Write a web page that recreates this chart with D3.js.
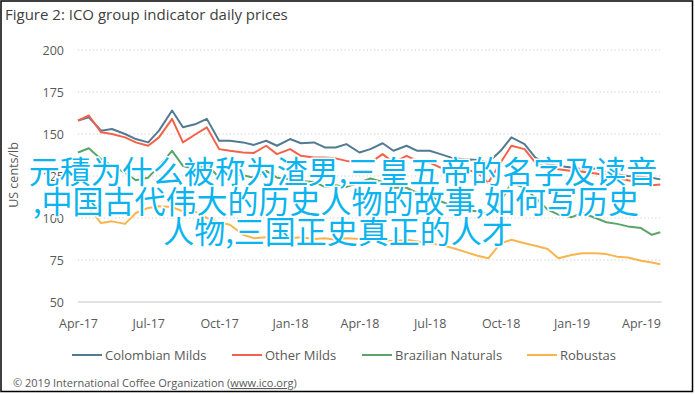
<!DOCTYPE html>
<html>
<head>
<meta charset="utf-8">
<script src="https://cdn.jsdelivr.net/npm/d3@7"></script>
<style>
  body { margin: 0; background: #fff; }
  svg { display: block; }
</style>
</head>
<body>
<script>
// semi-monthly sample dates, Apr 2017 - late Apr 2019
var dates = [
  "2017-04-01","2017-04-15","2017-05-01","2017-05-15","2017-06-01","2017-06-15",
  "2017-07-01","2017-07-15","2017-08-01","2017-08-15","2017-09-01","2017-09-15",
  "2017-10-01","2017-10-15","2017-11-01","2017-11-15","2017-12-01","2017-12-15",
  "2018-01-01","2018-01-15","2018-02-01","2018-02-15","2018-03-01","2018-03-15",
  "2018-04-01","2018-04-15","2018-05-01","2018-05-15","2018-06-01","2018-06-15",
  "2018-07-01","2018-07-15","2018-08-01","2018-08-15","2018-09-01","2018-09-15",
  "2018-10-01","2018-10-15","2018-11-01","2018-11-15","2018-12-01","2018-12-15",
  "2019-01-01","2019-01-15","2019-02-01","2019-02-15","2019-03-01","2019-03-15",
  "2019-04-01","2019-04-15","2019-04-26"
]

var colombianMilds = [
  158, 160, 152, 153, 150, 147, 145, 152, 164, 154, 156, 159,
  146, 146, 145, 143.5, 146, 143, 147, 144.5, 145, 142, 142, 144,
  139, 141, 144.5, 140, 143, 140, 140, 138, 135.5, 135, 134.5, 133,
  140, 148, 144, 136, 132, 131, 130, 129, 129.5, 127, 126, 125,
  124.5, 124, 123
]
var otherMilds = [
  158, 161, 151, 150, 148, 145, 143, 148, 159, 145, 150, 154,
  141, 140, 139, 138.7, 143, 138, 141, 137, 136, 136, 135.5, 134,
  133.5, 133, 138, 133, 137, 134, 133, 130, 130, 129, 127, 121,
  133, 143, 141, 133, 130, 129, 128, 127.5, 126.5, 125.5, 124, 122.5,
  121, 119.5, 120
]
var brazilianNaturals = [
  139, 141.5, 135, 131, 127, 122.5, 124, 131, 140, 131, 129, 132,
  124, 126, 125.5, 124, 128, 124, 123, 122, 121.5, 118.5, 119.5, 118.5,
  121, 123.5, 121.5, 118, 118, 115, 113, 110, 107, 104.5, 104, 102,
  110, 121, 118, 112, 105, 102, 100.5, 103, 100, 97.5, 96.5, 95,
  94, 90, 91.5
]
var robustas = [
  107, 106, 97, 98, 96.5, 103, 106, 107, 106.5, 104, 103.5, 100,
  97.5, 96, 90, 88, 88.5, 89, 88, 88.5, 87.5, 88, 87, 88,
  87.5, 88, 87, 86, 87, 86, 85, 84, 82, 80, 77.5, 76,
  85, 87, 85, 83.5, 81.5, 76, 78, 79, 79, 78.5, 77, 76.5,
  74.5, 73.5, 72.5
]

var seriesNames = ["Colombian Milds", "Other Milds", "Brazilian Naturals", "Robustas"]
var seriesColors = ["#527a92", "#f4614b", "#5aa46a", "#f9b44d"]
var yTicks = [50, 75, 100, 125, 150, 175, 200]
var xTickDates = ["2017-04-01","2017-07-01","2017-10-01","2018-01-01","2018-04-01",
                  "2018-07-01","2018-10-01","2019-01-01","2019-04-01"]
var overlayLines = [
  "元積为什么被称为渣男,三皇五帝的名字及读音",
  ",中国古代伟大的历史人物的故事,如何写历史",
  "人物,三国正史真正的人才"
]

var W = 695, H = 394
var parse = d3.timeParse("%Y-%m-%d")
var font = "'Open Sans', 'DejaVu Sans', sans-serif"

var svg = d3.select("body").append("svg")
  .attr("width", W)
  .attr("height", H)

svg.append("rect")
  .attr("x", 1).attr("y", 1)
  .attr("width", 691.5).attr("height", 390.5)
  .attr("fill", "#fff")
  .attr("stroke", "#000")
  .attr("stroke-width", 1.5)

svg.append("text")
  .attr("x", 5).attr("y", 20)
  .attr("font-family", font)
  .attr("font-size", 15)
  .attr("fill", "#404040")
  .text("Figure 2: ICO group indicator daily prices")

var x = d3.scaleTime()
  .domain([parse("2017-04-01"), parse("2019-04-01")])
  .range([78, 641])
var xEnd = x(parse("2019-04-28"))
var y = d3.scaleLinear().domain([50, 200]).range([302, 50])

// gridlines
svg.append("g").selectAll("line")
  .data(yTicks.filter(function (d) { return d > 50 }))
  .enter().append("line")
    .attr("x1", x.range()[0]).attr("x2", xEnd)
    .attr("y1", function (d) { return y(d) })
    .attr("y2", function (d) { return y(d) })
    .attr("stroke", "#cfcfcf")
    .attr("stroke-width", 1.2)
    .attr("stroke-dasharray", "1.3,2.4")

svg.append("line")
  .attr("x1", x.range()[0]).attr("x2", xEnd)
  .attr("y1", y(50)).attr("y2", y(50))
  .attr("stroke", "#d9d9d9")
  .attr("stroke-width", 1.5)

var yAxis = svg.append("g")
  .attr("transform", "translate(64,0)")
  .call(d3.axisLeft(y).tickValues(yTicks).tickSize(0).tickPadding(0))
yAxis.select(".domain").remove()
yAxis.selectAll("text")
  .attr("font-family", font).attr("font-size", 12.5).attr("fill", "#595959")

var xAxis = svg.append("g")
  .attr("transform", "translate(0," + y(50) + ")")
  .call(d3.axisBottom(x).tickValues(xTickDates.map(parse))
    .tickFormat(d3.timeFormat("%b-%y")).tickSize(0).tickPadding(17))
xAxis.select(".domain").remove()
xAxis.selectAll("text")
  .attr("font-family", font).attr("font-size", 12.5).attr("fill", "#595959")

svg.append("text")
  .attr("transform", "translate(18,175) rotate(-90)")
  .attr("text-anchor", "middle")
  .attr("font-family", font)
  .attr("font-size", 12.5)
  .attr("fill", "#595959")
  .text("US cents/lb")

var allSeries = [colombianMilds, otherMilds, brazilianNaturals, robustas]
var line = d3.line()
  .x(function (d, i) { return x(parse(dates[i])) })
  .y(function (d) { return y(d) })

svg.append("g").selectAll("path")
  .data(allSeries)
  .enter().append("path")
    .attr("d", line)
    .attr("fill", "none")
    .attr("stroke", function (d, i) { return seriesColors[i] })
    .attr("stroke-width", 2)
    .attr("stroke-linejoin", "round")

// legend
var legendX = [72, 232, 362, 527]
var legend = svg.append("g").selectAll("g")
  .data(seriesNames)
  .enter().append("g")
    .attr("transform", function (d, i) { return "translate(" + legendX[i] + ",355)" })
legend.append("line")
  .attr("x1", 0).attr("x2", 30)
  .attr("stroke", function (d, i) { return seriesColors[i] })
  .attr("stroke-width", 2)
legend.append("text")
  .attr("x", 33).attr("dy", "0.35em")
  .attr("font-family", font).attr("font-size", 13).attr("fill", "#595959")
  .text(function (d) { return d })

var foot = svg.append("text")
  .attr("x", 13).attr("y", 387)
  .attr("font-family", font).attr("font-size", 11)
  .attr("fill", "#595959")
foot.append("tspan").text("© 2019 International Coffee Organization (")
foot.append("tspan").attr("text-decoration", "underline").text("www.ico.org")
foot.append("tspan").text(")")

// overlaid caption text
var overlayX = [343, 336, 338]
svg.append("g").selectAll("text")
  .data(overlayLines)
  .enter().append("text")
    .attr("x", function (d, i) { return overlayX[i] })
    .attr("y", function (d, i) { return 183 + i * 30 })
    .attr("text-anchor", "middle")
    .attr("font-family", "'Noto Sans CJK SC', sans-serif")
    .attr("font-size", 31)
    .attr("fill", "#0bb4ee")
    .attr("stroke", "#fff")
    .attr("stroke-width", 3)
    .attr("paint-order", "stroke")
    .text(function (d) { return d })
</script>
</body>
</html>
